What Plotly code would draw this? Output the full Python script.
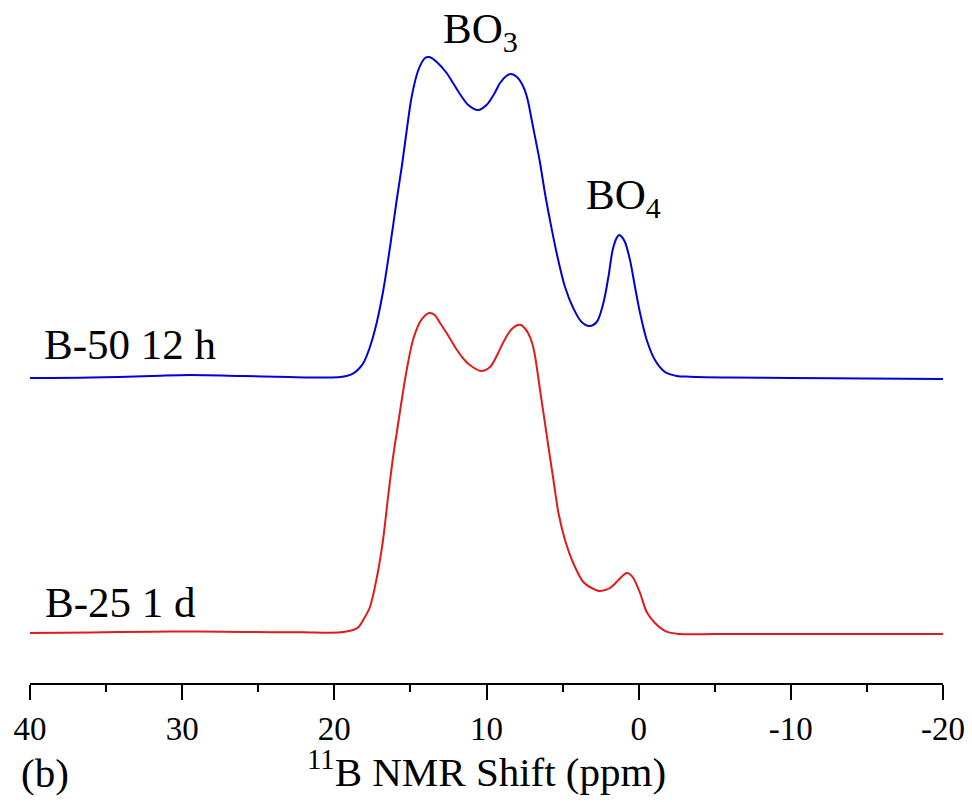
import plotly.graph_objects as go

# ---- data ----
blue_ppm = [40, 36, 32, 29.5, 26, 23, 20.5, 19.6, 19.2, 18.75, 18.4, 18.1, 17.66, 17.22, 16.78,
            16.34, 15.9, 15.57, 15.24, 14.92, 14.48, 14.04, 13.76, 13.27, 12.62, 12.2, 11.7,
            11.2, 10.56, 10.0, 9.5, 9.11, 8.7, 8.39, 8.0, 7.6, 7.34, 6.94, 6.48, 6.16, 5.83,
            5.39, 4.84, 4.3, 3.75, 3.24, 2.76, 2.32, 1.99, 1.71, 1.45, 1.29, 1.1, 0.9, 0.57,
            0.24, -0.09, -0.53, -1.07, -1.73, -2.5, -3.37, -6, -10, -15, -20]
blue_int = [0, 0.5, 2, 3, 2, 1, 0.5, 1, 2, 4.7, 9, 14.7, 31, 55, 88,
            131, 178, 211, 248, 281, 308, 320, 321, 316, 305, 295, 283,
            273, 268, 273, 284, 295, 302, 304, 301, 292, 281, 251, 215, 185, 158,
            125, 91, 70, 56, 52, 56, 75, 101, 128, 140, 143, 141, 136, 118,
            91, 65, 38, 18, 6, 2, 1.3, 0.5, 0, -0.5, -1]

red_ppm = [40, 36, 32, 29, 26, 22, 20.3, 19.4, 18.77, 18.4, 18.1, 17.66, 17.2, 16.8, 16.47,
           16.14, 15.8, 15.5, 15.16, 14.83, 14.37, 14.0, 13.78, 13.4, 13.05, 12.5, 11.94,
           11.5, 11.1, 10.36, 9.77, 9.3, 8.92, 8.5, 8.26, 7.95, 7.73, 7.5, 7.27, 7.0, 6.8,
           6.48, 6.16, 5.83, 5.6, 5.27, 4.84, 4.3, 3.64, 3.09, 2.54, 1.88, 1.33, 1.0, 0.79,
           0.6, 0.35, -0.09, -0.53, -1.07, -1.84, -2.7, -5, -10, -15, -20]
red_int = [0, 0.5, 1.3, 1.5, 1, 0.7, 0.3, 1, 3, 6, 13, 26, 56, 93, 136,
           176, 210, 240, 270, 293, 311, 318, 320, 318, 310, 297, 283,
           274, 268, 262, 266, 278, 290, 301, 305, 308, 308, 305, 300, 290, 276,
           243, 210, 176, 153, 120, 93, 70, 51, 45, 42, 45, 53, 58, 60,
           59, 55, 40, 21, 10, 1.3, -1, -1, -1, -1, -1]

blue_offset = 305
red_offset = 50

series_names = ["B-50 12 h", "B-25 1 d"]
peak_labels = ["BO<sub>3</sub>", "BO<sub>4</sub>"]
tick_vals = [40, 30, 20, 10, 0, -10, -20]
tick_text = ["40", "30", "20", "10", "0", "-10", "-20"]

FONT = "Liberation Serif, Times New Roman, serif"

fig = go.Figure()
fig.add_trace(go.Scatter(
    x=blue_ppm, y=[v + blue_offset for v in blue_int], mode="lines",
    line=dict(color="#0000D8", width=2, shape="spline", smoothing=0.9),
    name=series_names[0], showlegend=False))
fig.add_trace(go.Scatter(
    x=red_ppm, y=[v + red_offset for v in red_int], mode="lines",
    line=dict(color="#E01B1B", width=2, shape="spline", smoothing=0.9),
    name=series_names[1], showlegend=False))

ann_font = dict(family=FONT, size=43, color="black")
annotations = [
    dict(x=39.21, y=338.5, xref="x", yref="y", text=series_names[0], showarrow=False,
         xanchor="left", yanchor="middle", font=ann_font),
    dict(x=39.15, y=80.5, xref="x", yref="y", text=series_names[1], showarrow=False,
         xanchor="left", yanchor="middle", font=ann_font),
    dict(x=12.92, y=651, xref="x", yref="y", text=peak_labels[0], showarrow=False,
         xanchor="left", yanchor="middle", borderpad=0, font=ann_font),
    dict(x=3.53, y=485, xref="x", yref="y", text=peak_labels[1], showarrow=False,
         xanchor="left", yanchor="middle", borderpad=0, font=ann_font),
    dict(x=0.5, y=(683 - 769) / 663, xref="paper", yref="paper",
         text="<sup>11</sup>B NMR Shift (ppm)", showarrow=False,
         xanchor="center", yanchor="middle", font=dict(family=FONT, size=41, color="black")),
    dict(x=(19 - 30) / 913, y=(683 - 773) / 663, xref="paper", yref="paper",
         text="(b)", showarrow=False, xanchor="left", yanchor="middle",
         font=dict(family=FONT, size=41, color="black")),
]

fig.update_layout(
    width=972, height=802,
    margin=dict(l=30, r=29, t=20, b=119, autoexpand=False),
    paper_bgcolor="white", plot_bgcolor="white",
    annotations=annotations,
    xaxis=dict(
        range=[40, -20], autorange=False, automargin=False,
        tickmode="array", tickvals=tick_vals, ticktext=tick_text,
        showline=True, linecolor="black", linewidth=2,
        ticks="outside", ticklen=15, tickwidth=2, tickcolor="black",
        minor=dict(dtick=5, tick0=0, ticks="outside", ticklen=7, tickwidth=2, tickcolor="black"),
        showgrid=False, zeroline=False,
        tickfont=dict(family=FONT, size=33, color="black"),
        ticklabelstandoff=0,
    ),
    yaxis=dict(range=[0, 663], autorange=False, visible=False, showgrid=False, zeroline=False),
)

# remove the default 8px page margin so the 972x802 figure fills the window exactly
fig.write_html("out.html",
               config={"displayModeBar": False},
               post_script="document.body.style.margin='0';document.body.style.overflow='hidden';")
